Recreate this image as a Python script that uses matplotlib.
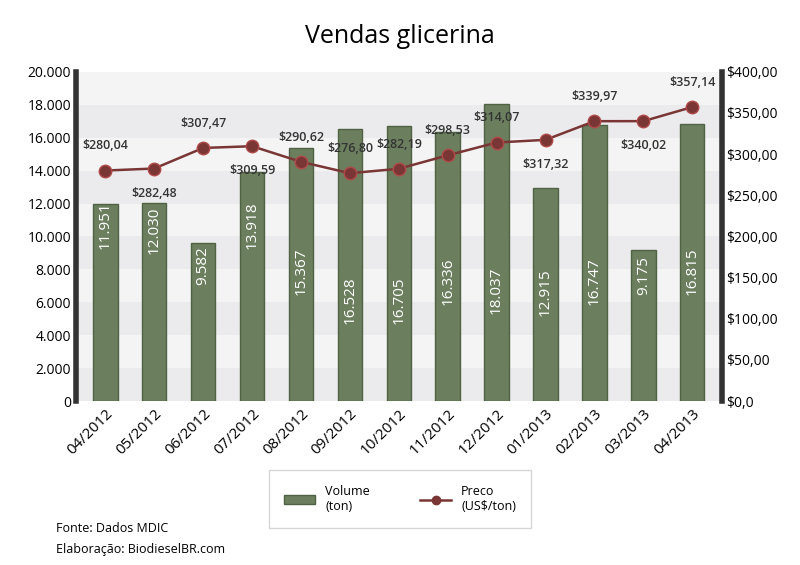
import matplotlib
matplotlib.use("Agg")
import matplotlib.pyplot as plt
from matplotlib.lines import Line2D
from matplotlib.patches import Patch

months = ["04/2012","05/2012","06/2012","07/2012","08/2012","09/2012","10/2012",
          "11/2012","12/2012","01/2013","02/2013","03/2013","04/2013"]
volume = [11951,12030,9582,13918,15367,16528,16705,16336,18037,12915,16747,9175,16815]
price = [280.04,282.48,307.47,309.59,290.62,276.80,282.19,298.53,314.07,317.32,339.97,340.02,357.14]
# label layout (not data)
label_above = [True,False,True,False,True,True,True,True,True,False,True,False,True]
vol_label_y = [10700,10400,8200,10700,7900,6100,6100,7300,6700,6600,7300,7600,7900]

def fmt_int(v):
    return f"{v:,}".replace(",", ".")

plt.rcParams['font.family'] = ['Open Sans', 'DejaVu Sans']
fig = plt.figure(figsize=(8, 5.65), dpi=100)
ax = fig.add_axes([0.095, 0.29, 0.807, 0.583])
ax2 = ax.twinx()
x = list(range(len(months)))

ax.set_ylim(0, 20000)
ax.set_xlim(-0.6, 12.6)
for i in range(10):
    ax.axhspan(i*2000, (i+1)*2000, color="#ebebed" if i % 2 == 0 else "#f4f4f5", zorder=0, lw=0)
ax.bar(x, volume, width=0.5, color="#6b7f5e", edgecolor="#4f6244", lw=1, zorder=2)
for xi, v, ly in zip(x, volume, vol_label_y):
    ax.text(xi, ly, fmt_int(v), rotation=90, ha="center", va="center", color="white",
            fontsize=11, zorder=3)
ax.set_yticks(range(0, 20001, 2000))
ax.set_yticklabels([fmt_int(v) for v in range(0, 20001, 2000)], fontsize=10)
ax.set_xticks(x)
ax.set_xticklabels(months, rotation=45, ha="right", rotation_mode="anchor", fontsize=11)
ax.tick_params(length=0)

ax2.set_ylim(0, 400)
ax2.plot(x, price, color="#7a3535", lw=1.8, marker="o", ms=9, mfc="#7a3535", mec="#b04a4a", zorder=5)
for xi, p, up in zip(x, price, label_above):
    ax2.annotate(f"${p:.2f}".replace(".", ","), (xi, p), xytext=(0, 13 if up else -13),
                 textcoords="offset points", ha="center", va="bottom" if up else "top",
                 fontsize=9, fontweight="semibold", color="#333333")
ax2.set_yticks(range(0, 401, 50))
ax2.set_yticklabels([f"${v},00" if v else "$0,0" for v in range(0, 401, 50)], fontsize=10)
ax2.tick_params(length=0)
ax2.patch.set_visible(False)
for a in (ax, ax2):
    for s in a.spines.values():
        s.set_visible(False)
ax.spines['left'].set_visible(True); ax.spines['left'].set_linewidth(4); ax.spines['left'].set_color("#333333")
ax2.spines['right'].set_visible(True); ax2.spines['right'].set_linewidth(4); ax2.spines['right'].set_color("#333333")

fig.text(0.5, 0.935, "Vendas glicerina", ha="center", va="center", fontsize=18)

handles = [Patch(facecolor="#6b7f5e", edgecolor="#4f6244"),
           Line2D([0], [0], color="#7a3535", marker="o", mfc="#7a3535", ms=6, lw=1.8)]
fig.legend(handles, ["Volume\n(ton)", "Preco\n(US$/ton)"], loc="center",
           bbox_to_anchor=(0.5, 0.117), ncol=2, fontsize=9, frameon=True,
           fancybox=False, edgecolor="#cccccc", columnspacing=4, borderpad=1.2,
           handlelength=2.5)
fig.text(0.07, 0.058, "Fonte: Dados MDIC", fontsize=9)
fig.text(0.07, 0.022, "Elaboração: BiodieselBR.com", fontsize=9)
fig.savefig("out.png", dpi=100)
